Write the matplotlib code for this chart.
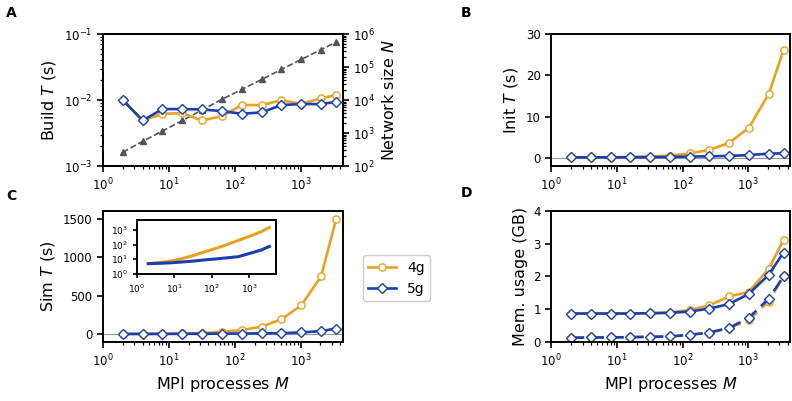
import numpy as np
import matplotlib.pyplot as plt

# dati
M = [2, 4, 8, 16, 32, 64, 128, 256, 512, 1024, 2048, 3456]

build_4g = [0.010, 0.0049, 0.0062, 0.0063, 0.0049, 0.0057, 0.0084, 0.0084, 0.0099, 0.0088, 0.0106, 0.0119]
build_5g = [0.010, 0.0049, 0.0073, 0.0073, 0.0072, 0.0068, 0.0062, 0.0065, 0.0084, 0.0087, 0.0087, 0.0094]
net_size = [260, 560, 1150, 2400, 5000, 10500, 21000, 42000, 85000, 170000, 340000, 570000]

init_4g = [0.1, 0.1, 0.15, 0.2, 0.3, 0.5, 1.05, 1.9, 3.6, 7.3, 15.4, 26.1]
init_5g = [0.1, 0.1, 0.1, 0.12, 0.15, 0.2, 0.3, 0.35, 0.45, 0.65, 1.0, 1.1]

sim_4g = [5, 6, 7.5, 11, 18, 32, 55, 100, 195, 375, 750, 1490]
sim_5g = [5, 5.3, 5.7, 6.5, 7.5, 9, 10.5, 12.5, 15, 25, 42, 75]

mem_4g = [0.87, 0.87, 0.87, 0.87, 0.88, 0.90, 0.98, 1.12, 1.39, 1.53, 2.23, 3.12]
mem_5g = [0.87, 0.87, 0.87, 0.87, 0.88, 0.89, 0.93, 1.02, 1.16, 1.47, 2.05, 2.73]
mem0_4g = [0.13, 0.14, 0.14, 0.15, 0.16, 0.17, 0.22, 0.29, 0.43, 0.67, 1.23, 2.0]
mem0_5g = [0.13, 0.14, 0.14, 0.15, 0.16, 0.17, 0.22, 0.29, 0.43, 0.74, 1.32, 2.0]

arancio = '#E9A21F'
blu = '#1A40B0'

plt.rcParams['font.size'] = 8.5
plt.rcParams['axes.linewidth'] = 1.4
plt.rcParams['xtick.major.width'] = 1.2
plt.rcParams['ytick.major.width'] = 1.2
plt.rcParams['xtick.major.size'] = 4
plt.rcParams['ytick.major.size'] = 4
plt.rcParams['xtick.minor.width'] = 0.9
plt.rcParams['ytick.minor.width'] = 0.9
plt.rcParams['xtick.minor.size'] = 2.3
plt.rcParams['ytick.minor.size'] = 2.3

fig = plt.figure(figsize=(7.92, 4.01), dpi=100)

ax_a = fig.add_axes([0.130, 0.586, 0.303, 0.329])
ax_b = fig.add_axes([0.696, 0.586, 0.302, 0.329])
ax_c = fig.add_axes([0.130, 0.147, 0.303, 0.327])
ax_d = fig.add_axes([0.696, 0.147, 0.302, 0.327])

stile4 = dict(color=arancio, lw=1.9, marker='o', ms=5.2, mfc='white', mec=arancio, mew=1.0)
stile5 = dict(color=blu, lw=1.9, marker='D', ms=4.6, mfc='white', mec=blu, mew=1.0)
lab = 11.5

# A
ax_a.plot(M, build_4g, **stile4, zorder=3)
ax_a.plot(M, build_5g, **stile5, zorder=4)
ax_a.set_xscale('log')
ax_a.set_yscale('log')
ax_a.set_ylim(1e-3, 1e-1)
ax_a.set_ylabel('Build $T$ (s)', fontsize=lab)
ax_n = ax_a.twinx()
ax_n.plot(M, net_size, color='#555555', lw=1.2, ls='--', marker='^', ms=4.5, zorder=1)
ax_n.set_yscale('log')
ax_n.set_ylim(1e2, 1e6)
ax_n.set_ylabel('Network size $N$', fontsize=lab)
ax_a.set_zorder(ax_n.get_zorder() + 1)
ax_a.patch.set_visible(False)

# B
ax_b.axhline(0, color='#999999', lw=0.8, zorder=0)
ax_b.plot(M, init_4g, **stile4)
ax_b.plot(M, init_5g, **stile5)
ax_b.set_xscale('log')
ax_b.set_ylim(-2, 30)
ax_b.set_yticks([0, 10, 20, 30])
ax_b.set_ylabel('Init $T$ (s)', fontsize=lab)

# C
ax_c.axhline(0, color='#999999', lw=0.8, zorder=0)
l4, = ax_c.plot(M, sim_4g, **stile4, label='4g')
l5, = ax_c.plot(M, sim_5g, **stile5, label='5g')
ax_c.set_xscale('log')
ax_c.set_ylim(-100, 1600)
ax_c.set_yticks([0, 500, 1000, 1500])
ax_c.set_ylabel('Sim $T$ (s)', fontsize=lab)
ax_c.set_xlabel('MPI processes $M$', fontsize=lab)

ins = fig.add_axes([0.173, 0.317, 0.1755, 0.135])
ins.plot(M, sim_4g, color=arancio, lw=2.2)
ins.plot(M, sim_5g, color=blu, lw=2.2)
ins.set_xscale('log')
ins.set_yscale('log')
ins.set_xlim(1, 5200)
ins.set_ylim(1, 5000)
ins.set_yticks([1, 10, 100, 1000])
ins.tick_params(labelsize=6.5, length=3)
ins.tick_params(which='minor', length=0)

# D
ax_d.plot(M, mem_4g, **stile4)
ax_d.plot(M, mem_5g, **stile5)
ax_d.plot(M, mem0_4g, **dict(stile4, ls='--', dashes=(5, 2.5)))
ax_d.plot(M, mem0_5g, **dict(stile5, ls='--', dashes=(5, 2.5)))
ax_d.set_xscale('log')
ax_d.set_ylim(0, 4)
ax_d.set_yticks([0, 1, 2, 3, 4])
ax_d.set_ylabel('Mem. usage (GB)', fontsize=lab)
ax_d.set_xlabel('MPI processes $M$', fontsize=lab)

for ax in [ax_a, ax_b, ax_c, ax_d]:
    ax.set_xlim(1, 4400)
    ax.set_xticks([1, 10, 100, 1000])

fig.legend(handles=[l4, l5], loc='upper left', bbox_to_anchor=(0.458, 0.364),
           borderaxespad=0, fontsize=10, handlelength=2.0, framealpha=1,
           edgecolor='#cccccc')

for lettera, x, y in [('A', 0.008, 0.985), ('B', 0.582, 0.985), ('C', 0.008, 0.528), ('D', 0.582, 0.535)]:
    fig.text(x, y, lettera, fontsize=10, fontweight='bold', va='top')

fig.savefig('out.png', dpi=100)
